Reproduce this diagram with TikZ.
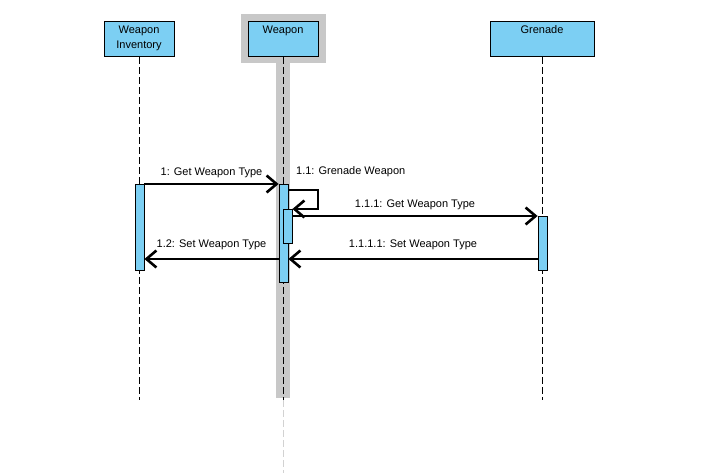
\documentclass[tikz,border=0pt]{standalone}
\usepackage{fontspec}
\setmainfont{Liberation Sans}
\usetikzlibrary{arrows.meta,positioning}
\definecolor{objblue}{HTML}{7CCFF3}
\definecolor{hlgray}{HTML}{C8C8C8}
\definecolor{fadegray}{HTML}{D2D2D2}

\begin{document}
\begin{tikzpicture}[x=1pt,y=-1pt,
    font=\fontsize{11}{15}\selectfont,
    obj/.style={draw=black,fill=objblue,line width=0.9pt,minimum height=35pt,inner sep=0pt,anchor=north},
    objtxt/.style={inner sep=0pt,align=center,anchor=north},
    life/.style={line width=0.8pt,dash pattern=on 7pt off 3pt},
    act/.style={draw=black,fill=objblue,line width=0.8pt,minimum width=9pt,inner sep=0pt,anchor=north},
    msg/.style={-{Straight Barb[length=10pt,width=17pt,line width=2.6pt]},line width=2.8pt},
    lbl/.style={inner sep=1pt}
  ]
  \useasboundingbox (0,0) rectangle (720,473);
  % selected object: grey frame and column
  \node[fill=hlgray,minimum width=85pt,minimum height=49pt,inner sep=0pt,anchor=north] (wpnhl) at (283.5,14) {};
  \fill[hlgray] (276,63) rectangle (290,398);
  % objects
  \node[obj,minimum width=70pt] (inv) at (139,21) {};
  \node[obj,minimum width=70pt] (wpn) at (283,21) {};
  \node[obj,minimum width=104pt] (gren) at (542,21) {};
  \node[objtxt,below=4.5pt of inv.north] (invtxt) {Weapon\\Inventory};
  \node[objtxt,below=4.5pt of wpn.north] (wpntxt) {Weapon};
  \node[objtxt,below=4.5pt of gren.north] (grentxt) {Grenade};
  % lifelines
  \coordinate (lifeend) at (0,400);
  \coordinate (pagebot) at (0,473);
  \draw[life] (inv.south) -- (inv.south |- lifeend);
  \draw[life] (wpn.south) -- (wpn.south |- lifeend);
  \draw[life,fadegray] (wpn.south |- lifeend) -- (wpn.south |- pagebot);
  \draw[life] (gren.south) -- (gren.south |- lifeend);
  % activations
  \node[act,minimum height=86pt] (invbar) at (139.5,184) {};
  \node[act,minimum height=98pt] (wpnbar) at (283.5,184) {};
  \node[act,minimum height=34pt] (wpnbar2) at (287.5,209) {};
  \node[act,minimum height=54pt] (grenbar) at (542.5,216) {};
  % messages
  \coordinate (loop) at (318,190);
  \coordinate (ret) at (0,259);
  \draw[msg] (invbar.north east) -- node[lbl,above=4pt] (m1) {1: Get Weapon Type} (wpnbar.north west);
  \node[lbl,fill=white,anchor=west] (m11) at (295,172) {1.1: Grenade Weapon};
  \draw[msg] (wpnbar.east |- loop) -- (loop) |- (wpnbar2.north east);
  \draw[msg] (wpnbar2.east |- grenbar.north) -- node[lbl,above=4pt] (m111) {1.1.1: Get Weapon Type} (grenbar.north west);
  \draw[msg] (grenbar.west |- ret) -- node[lbl,above=7pt] (m1111) {1.1.1.1: Set Weapon Type} (wpnbar.east |- ret);
  \draw[msg] (wpnbar.west |- ret) -- node[lbl,above=7pt] (m12) {1.2: Set Weapon Type} (invbar.east |- ret);
\end{tikzpicture}
\end{document}
